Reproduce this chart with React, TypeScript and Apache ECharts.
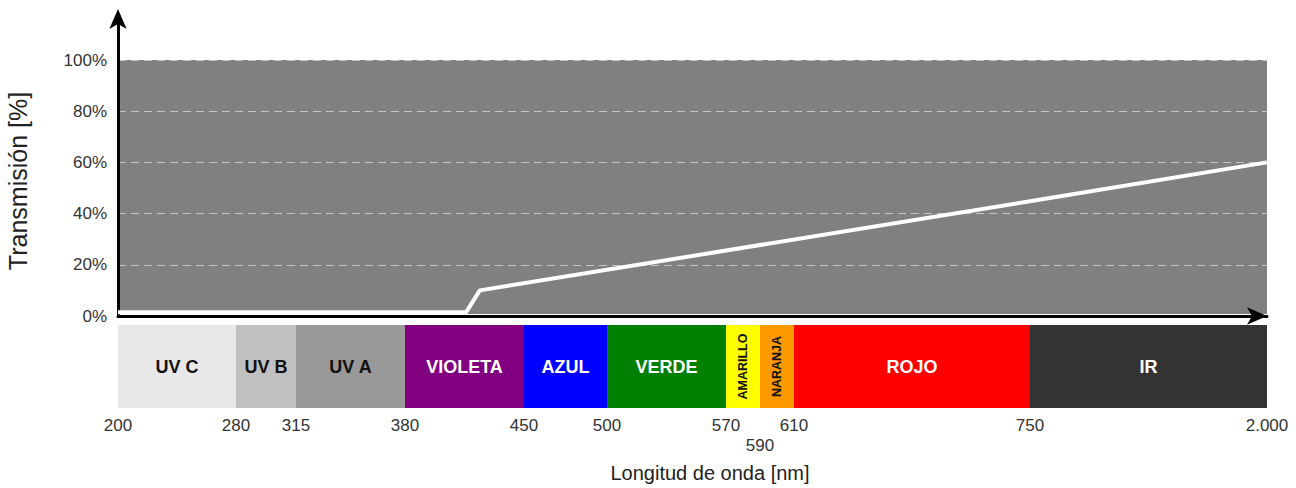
import React, { useEffect, useRef } from "react";
import * as echarts from "echarts";

// Wavelength tick labels (nm) and the axis' piecewise scale (nm -> axis units)
const WAVELENGTH_TICKS = [200, 280, 315, 380, 450, 500, 570, 590, 610, 750, 2000];
const AXIS_UNITS = [0, 118, 178, 287, 406, 489, 608, 642, 676, 912, 1149];

// Transmission curve
const CURVE_NM = [200, 416, 424, 750, 2000];
const CURVE_PCT = [1.5, 1.5, 10, 44.8, 60];

// Spectrum bands
const BAND_START = [200, 280, 315, 380, 450, 500, 570, 590, 610, 750];
const BAND_END = [280, 315, 380, 450, 500, 570, 590, 610, 750, 2000];
const BAND_LABELS = ["UV C", "UV B", "UV A", "VIOLETA", "AZUL", "VERDE", "AMARILLO", "NARANJA", "ROJO", "IR"];
const BAND_COLORS = ["#e8e8e8", "#c0c0c0", "#999999", "#800080", "#0000ff", "#008000", "#ffff00", "#ff9900", "#ff0000", "#333333"];
const BAND_TEXT_COLORS = ["#111", "#111", "#111", "#fff", "#fff", "#fff", "#111", "#111", "#fff", "#fff"];
const BAND_VERTICAL = [false, false, false, false, false, false, true, true, false, false];

const Y_TICKS = [0, 20, 40, 60, 80, 100];

const FONT = "'Liberation Sans', Arial, Helvetica, sans-serif";

function toAxis(nm: number): number {
  for (let i = 0; i < WAVELENGTH_TICKS.length - 1; i++) {
    const a = WAVELENGTH_TICKS[i];
    const b = WAVELENGTH_TICKS[i + 1];
    if (nm <= b || i === WAVELENGTH_TICKS.length - 2) {
      const t = (nm - a) / (b - a);
      return AXIS_UNITS[i] + t * (AXIS_UNITS[i + 1] - AXIS_UNITS[i]);
    }
  }
  return 0;
}

function tickLabel(v: number): string {
  let best = 0;
  for (let i = 0; i < AXIS_UNITS.length; i++) {
    if (Math.abs(AXIS_UNITS[i] - v) < Math.abs(AXIS_UNITS[best] - v)) best = i;
  }
  const nm = WAVELENGTH_TICKS[best];
  const s = nm >= 1000 ? `${Math.floor(nm / 1000)}.${String(nm % 1000).padStart(3, "0")}` : String(nm);
  return nm === 590 ? `\n${s}` : s;
}

export default function App() {
  const ref = useRef<HTMLDivElement>(null);

  useEffect(() => {
    document.body.style.margin = "0";
    const chart = echarts.init(ref.current!, null, { renderer: "svg" });
    const xMax = AXIS_UNITS[AXIS_UNITS.length - 1];

    const option: any = {
      animation: false,
      backgroundColor: "#ffffff",
      textStyle: { fontFamily: FONT },
      grid: [
        { left: 118, right: 29, top: 19, height: 297 },
        { left: 118, right: 29, top: 325, height: 83 },
      ],
      xAxis: [
        {
          type: "value",
          gridIndex: 0,
          min: 0,
          max: xMax,
          axisLine: {
            show: true,
            symbol: ["none", "arrow"],
            symbolSize: [13, 20],
            symbolOffset: [0, 0],
            lineStyle: { color: "#000", width: 3 },
          },
          axisTick: { show: false },
          axisLabel: { show: false },
          splitLine: { show: false },
        },
        {
          type: "value",
          gridIndex: 1,
          min: 0,
          max: xMax,
          axisLine: { show: false },
          axisTick: { show: false },
          splitLine: { show: false },
          axisLabel: {
            show: true,
            customValues: AXIS_UNITS,
            formatter: (v: number) => tickLabel(v),
            fontSize: 17,
            lineHeight: 20,
            color: "#333",
            margin: 7,
            showMinLabel: true,
            showMaxLabel: true,
            hideOverlap: false,
            fontFamily: FONT,
          },
        },
      ],
      yAxis: [
        {
          type: "value",
          gridIndex: 0,
          min: 0,
          max: 297 / 2.56,
          axisLine: {
            show: true,
            symbol: ["none", "arrow"],
            symbolSize: [13, 20],
            symbolOffset: [0, 10],
            lineStyle: { color: "#000", width: 3 },
          },
          axisTick: { show: false, customValues: Y_TICKS },
          axisLabel: {
            customValues: Y_TICKS,
            formatter: (v: number) => `${v}%`,
            fontSize: 17,
            color: "#333",
            margin: 11,
            fontFamily: FONT,
          },
          splitLine: {
            show: true,
            lineStyle: { color: "#c4c4c4", width: 1, type: [8, 5] },
          },
        },
        { type: "value", gridIndex: 1, min: 0, max: 1, show: false },
      ],
      graphic: [
        {
          type: "text",
          x: 18,
          y: 181,
          rotation: Math.PI / 2,
          style: {
            text: "Transmisión [%]",
            fontSize: 25,
            fontFamily: FONT,
            fill: "#222",
            align: "center",
            verticalAlign: "middle",
          },
        },
        {
          type: "text",
          x: 710,
          y: 473,
          style: {
            text: "Longitud de onda [nm]",
            fontSize: 20,
            fontFamily: FONT,
            fill: "#222",
            align: "center",
            verticalAlign: "middle",
          },
        },
      ],
      series: [
        {
          type: "custom",
          name: "fondo",
          xAxisIndex: 0,
          yAxisIndex: 0,
          z: -1,
          silent: true,
          data: [[0, 100]],
          renderItem: (_p: any, api: any) => {
            const tl = api.coord([0, 100]);
            const br = api.coord([xMax, 0]);
            return {
              type: "rect",
              shape: { x: tl[0], y: tl[1], width: br[0] - tl[0], height: br[1] - tl[1] - 2 },
              style: { fill: "#808080" },
            };
          },
        },
        {
          type: "line",
          name: "Transmisión",
          xAxisIndex: 0,
          yAxisIndex: 0,
          data: CURVE_NM.map((nm, i) => [toAxis(nm), CURVE_PCT[i]]),
          showSymbol: false,
          lineStyle: { color: "#ffffff", width: 4 },
          z: 5,
        },
        {
          type: "custom",
          name: "espectro",
          xAxisIndex: 1,
          yAxisIndex: 1,
          data: BAND_START.map((s, i) => [toAxis(s), toAxis(BAND_END[i])]),
          renderItem: (params: any, api: any) => {
            const i = params.dataIndex;
            const tl = api.coord([api.value(0), 1]);
            const br = api.coord([api.value(1), 0]);
            const cx = (tl[0] + br[0]) / 2;
            const cy = (tl[1] + br[1]) / 2;
            const vertical = BAND_VERTICAL[i];
            return {
              type: "group",
              children: [
                {
                  type: "rect",
                  shape: { x: tl[0], y: tl[1], width: br[0] - tl[0], height: br[1] - tl[1] },
                  style: { fill: BAND_COLORS[i] },
                },
                {
                  type: "text",
                  x: cx,
                  y: cy,
                  rotation: vertical ? Math.PI / 2 : 0,
                  style: {
                    text: BAND_LABELS[i],
                    fill: BAND_TEXT_COLORS[i],
                    fontFamily: FONT,
                    fontWeight: "bold",
                    fontSize: vertical ? 12.5 : 18,
                    align: "center",
                    verticalAlign: "middle",
                  },
                },
              ],
            };
          },
        },
      ],
    };

    chart.setOption(option);
    return () => chart.dispose();
  }, []);

  return <div ref={ref} style={{ width: 1296, height: 488 }} />;
}
